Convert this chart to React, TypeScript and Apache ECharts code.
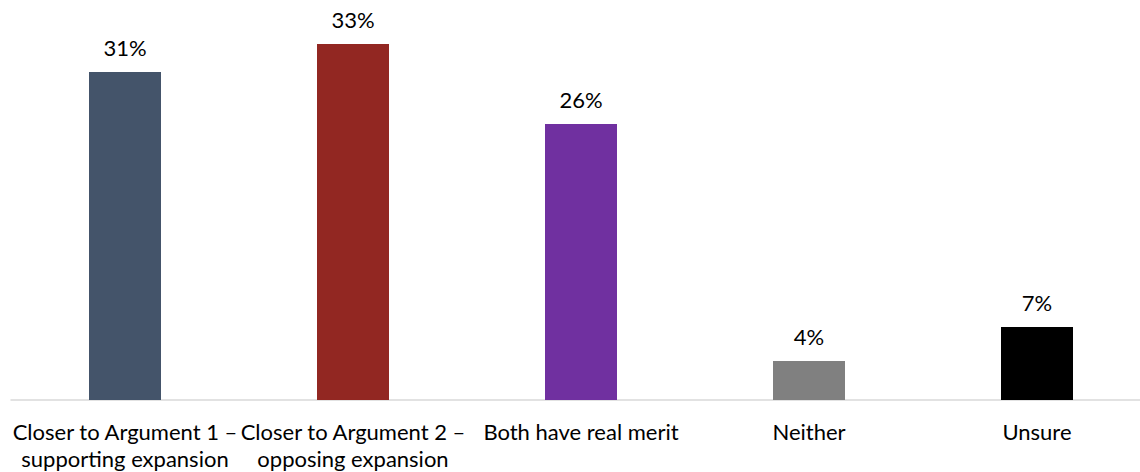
import React, { useEffect, useRef } from "react";
import * as echarts from "echarts";

const categories = [
  "Closer to Argument 1 –\nsupporting expansion",
  "Closer to Argument 2 –\nopposing expansion",
  "Both have real merit",
  "Neither",
  "Unsure",
];
const values = [30.65, 33.27, 25.79, 3.64, 6.82];
const colors = ["#44546A", "#922722", "#7030A0", "#808080", "#000000"];

export default function App() {
  const ref = useRef<HTMLDivElement>(null);
  useEffect(() => {
    if (!ref.current) return;
    const chart = echarts.init(ref.current, null, { renderer: "svg" });
    const font = "Lato, 'Open Sans', sans-serif";
    chart.setOption({
      animation: false,
      grid: { left: 11, right: 0, top: 25.5, bottom: 72 },
      xAxis: {
        type: "category",
        data: categories,
        axisTick: { show: false },
        axisLine: { show: true, lineStyle: { color: "#D9D9D9", width: 1.5 } },
        axisLabel: {
          interval: 0,
          margin: 18,
          color: "#000000",
          fontFamily: font,
          fontSize: 22,
          lineHeight: 27,
        },
      },
      yAxis: { type: "value", min: 0, max: 35, show: false },
      series: [
        {
          type: "bar",
          barWidth: 72,
          data: values.map((v, i) => ({ value: v, itemStyle: { color: colors[i] } })),
          label: {
            show: true,
            position: "top",
            distance: 14,
            color: "#000000",
            fontFamily: font,
            fontSize: 22,
            formatter: (p: any) => Math.round(p.value) + "%",
          },
        },
      ],
    });
    return () => chart.dispose();
  }, []);
  return (
    <div style={{ position: "fixed", left: 0, top: 0, width: 1140, height: 472, overflow: "hidden", background: "#fff" }}>
      <div ref={ref} style={{ width: 1151, height: 472 }} />
    </div>
  );
}
